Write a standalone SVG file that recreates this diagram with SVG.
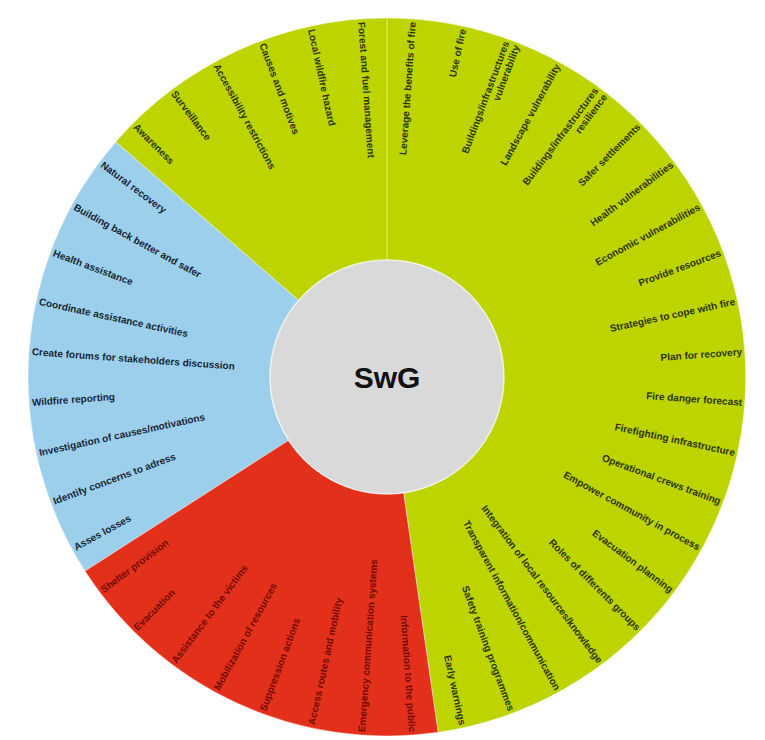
<svg xmlns="http://www.w3.org/2000/svg" width="765" height="740" viewBox="0 0 765 740">
<style>
text{font-family:"Liberation Sans",Arial,sans-serif;font-weight:bold;font-size:10px}
.g{fill:#bdd400}.b{fill:#9ccfeb}.r{fill:#e3301b}
.sep{stroke:#ffffff;stroke-opacity:0.4;stroke-width:1}
.tg{fill:#2c3400}.tb{fill:#182636}.tr{fill:#720b04}
.R{text-anchor:end}.L{text-anchor:start}
</style>
<rect width="765" height="740" fill="#ffffff"/>
<g id="sector-green-right">
<path class="g sep" d="M387,18 A359,359 0 0 1 438.1,732.3 L403.6,492.8 A117,117 0 0 0 387,260 Z"/>
<g class="tg R">
<text transform="rotate(-85.91 387 377)" x="743" y="380.5">Leverage the benefits of fire</text>
<text transform="rotate(-77.73 387 377)" x="743" y="380.5">Use of fire</text>
<text transform="rotate(-69.55 387 377)" x="743" y="375">Buildings/infrastructures</text>
<text transform="rotate(-69.55 387 377)" x="743" y="386">vulnerability</text>
<text transform="rotate(-61.36 387 377)" x="743" y="380.5">Landscape vulnerability</text>
<text transform="rotate(-53.18 387 377)" x="743" y="375">Buildings/infrastructures</text>
<text transform="rotate(-53.18 387 377)" x="743" y="386">resilience</text>
<text transform="rotate(-45 387 377)" x="743" y="380.5">Safer settlements</text>
<text transform="rotate(-36.82 387 377)" x="743" y="380.5">Health vulnerabilities</text>
<text transform="rotate(-28.64 387 377)" x="743" y="380.5">Economic vulnerabilities</text>
<text transform="rotate(-20.45 387 377)" x="743" y="380.5">Provide resources</text>
<text transform="rotate(-12.27 387 377)" x="743" y="380.5">Strategies to cope with fire</text>
<text transform="rotate(-4.09 387 377)" x="743" y="380.5">Plan for recovery</text>
<text transform="rotate(4.09 387 377)" x="743" y="380.5">Fire danger forecast</text>
<text transform="rotate(12.27 387 377)" x="743" y="380.5">Firefighting  infrastructure</text>
<text transform="rotate(20.45 387 377)" x="743" y="380.5">Operational crews training</text>
<text transform="rotate(28.64 387 377)" x="743" y="380.5">Empower community in process</text>
<text transform="rotate(36.82 387 377)" x="743" y="380.5">Evacuation planning</text>
<text transform="rotate(45 387 377)" x="743" y="380.5">Roles of differents groups</text>
<text transform="rotate(53.18 387 377)" x="743" y="380.5">Integration of local resources/knowledge</text>
<text transform="rotate(61.36 387 377)" x="743" y="380.5">Transparent information/communication</text>
<text transform="rotate(69.55 387 377)" x="743" y="380.5">Safety training programmes</text>
<text transform="rotate(77.73 387 377)" x="743" y="380.5">Early warnings</text>
</g>
</g>
<g id="sector-green-left">
<path class="g sep" d="M387,18 A359,359 0 0 0 115.7,141.9 L298.6,300.4 A117,117 0 0 1 387,260 Z"/>
<g class="tg L">
<text transform="rotate(85.91 387 377)" x="31" y="380.5">Forest  and fuel management</text>
<text transform="rotate(77.73 387 377)" x="31" y="380.5">Local wildfire hazard</text>
<text transform="rotate(69.55 387 377)" x="31" y="380.5">Causes and motives</text>
<text transform="rotate(61.36 387 377)" x="31" y="380.5">Accessibility restrictions</text>
<text transform="rotate(53.18 387 377)" x="31" y="380.5">Surveillance</text>
<text transform="rotate(45 387 377)" x="31" y="380.5">Awareness</text>
</g>
</g>
<g id="sector-blue">
<path class="b sep" d="M115.7,141.9 A359,359 0 0 0 85,571.1 L288.6,440.3 A117,117 0 0 1 298.6,300.4 Z"/>
<g class="tb L">
<text transform="rotate(36.82 387 377)" x="31" y="380.5">Natural recovery</text>
<text transform="rotate(28.64 387 377)" x="31" y="380.5">Building back better and safer</text>
<text transform="rotate(20.45 387 377)" x="31" y="380.5">Health assistance</text>
<text transform="rotate(12.27 387 377)" x="31" y="380.5">Coordinate assistance activities</text>
<text transform="rotate(4.09 387 377)" x="31" y="380.5">Create forums for stakeholders discussion</text>
<text transform="rotate(-4.09 387 377)" x="31" y="380.5">Wildfire reporting</text>
<text transform="rotate(-12.27 387 377)" x="31" y="380.5">Investigation of causes/motivations</text>
<text transform="rotate(-20.45 387 377)" x="31" y="380.5">Identify concerns to adress</text>
<text transform="rotate(-28.64 387 377)" x="31" y="380.5">Asses losses</text>
</g>
</g>
<g id="sector-red">
<path class="r sep" d="M85,571.1 A359,359 0 0 0 438.1,732.3 L403.6,492.8 A117,117 0 0 1 288.6,440.3 Z"/>
<g class="tr">
<text class="L" transform="rotate(-36.82 387 377)" x="31" y="380.5">Shelter provision</text>
<text class="L" transform="rotate(-45 387 377)" x="31" y="380.5">Evacuation</text>
<text class="L" transform="rotate(-53.18 387 377)" x="31" y="380.5">Assistance to the victims</text>
<text class="L" transform="rotate(-61.36 387 377)" x="31" y="380.5">Mobilization of resources</text>
<text class="L" transform="rotate(-69.55 387 377)" x="31" y="380.5">Suppression actions</text>
<text class="L" transform="rotate(-77.73 387 377)" x="31" y="380.5">Access routes and mobility</text>
<text class="L" transform="rotate(-85.91 387 377)" x="31" y="380.5">Emergency communication systems</text>
<text class="R" transform="rotate(85.91 387 377)" x="743" y="380.5">Information to the public</text>
</g>
</g>
<g id="center">
<circle cx="387" cy="377" r="117" fill="#d9d9d9" stroke="#ffffff" stroke-opacity="0.6" stroke-width="1.5"/>
<text x="387" y="388" text-anchor="middle" style="font-size:30px" fill="#111111">SwG</text>
</g>
</svg>
